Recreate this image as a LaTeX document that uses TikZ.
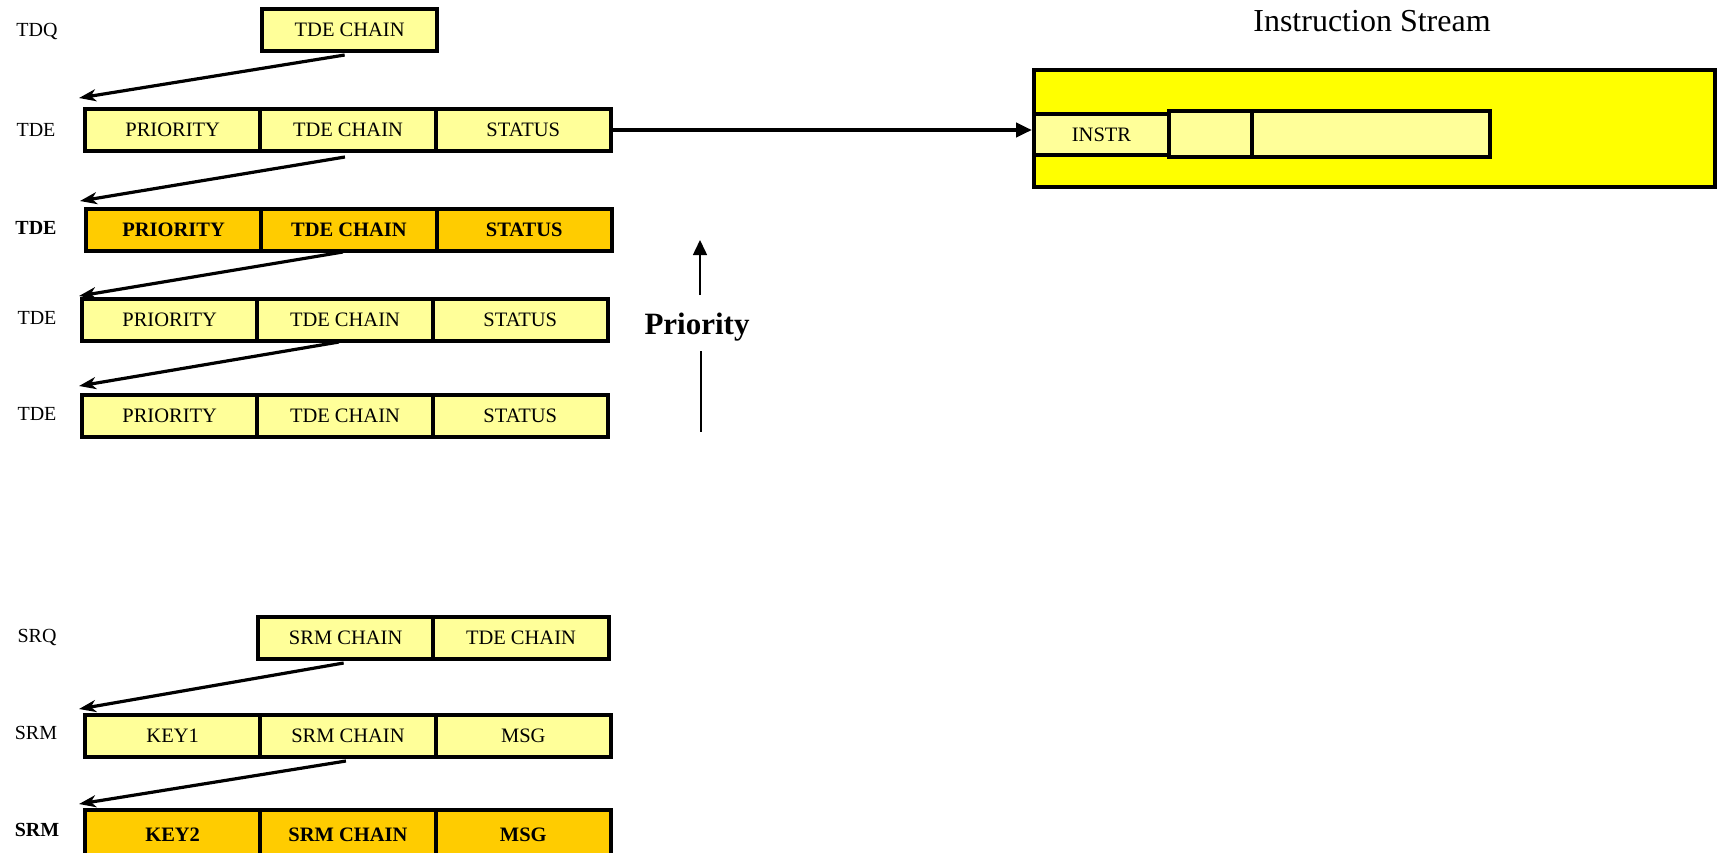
\documentclass[tikz,border=0pt]{standalone}
\usepackage{fontspec}
\setmainfont{Liberation Serif}
\usetikzlibrary{calc,arrows.meta}
\definecolor{cellyellow}{HTML}{FFFF99}
\definecolor{cellorange}{HTML}{FFCC00}
\definecolor{streamyellow}{HTML}{FFFF00}
\begin{document}
\begin{tikzpicture}[x=1pt,y=-1pt,
  cell/.style={draw=black, line width=4pt, fill=cellyellow,
    minimum width=175.3pt, minimum height=42pt, inner sep=0pt,
    anchor=north west, font=\fontsize{20.5}{24}\selectfont},
  hot/.style={cell, fill=cellorange, font=\fontsize{20.5}{24}\selectfont\bfseries},
  tag/.style={anchor=center, inner sep=0pt, font=\fontsize{20}{24}\selectfont},
  boldtag/.style={tag, font=\fontsize{20}{24}\selectfont\bfseries},
  chain/.style={line width=3.2pt, -{Stealth[length=17pt,width=12pt,inset=5pt]}},
  feed/.style={line width=4.5pt, -{Triangle[length=16pt,width=14pt]}},
  rise/.style={line width=1.5pt, -{Triangle[length=15pt,width=14pt]}}
]
\useasboundingbox (0,0) rectangle (1719,852);

\begin{scope}[shift={(-2,-2)}]
% --- task dispatch queue and its chain of task descriptors
\node[tag] (lq) at (39,33) {TDQ};
\node[cell] (q1) at (262,9) {TDE CHAIN};

\node[tag] (l1) at (38,132) {TDE};
\node[cell] (r1a) at (85,109) {PRIORITY};
\node[cell] (r1b) at (260.3,109) {TDE CHAIN};
\node[cell] (r1c) at (435.6,109) {STATUS};

\node[boldtag] (l2) at (38,230) {TDE};
\node[hot] (r2a) at (86,209) {PRIORITY};
\node[hot] (r2b) at (261.3,209) {TDE CHAIN};
\node[hot] (r2c) at (436.6,209) {STATUS};

\node[tag] (l3) at (39,320) {TDE};
\node[cell] (r3a) at (82,299) {PRIORITY};
\node[cell] (r3b) at (257.3,299) {TDE CHAIN};
\node[cell] (r3c) at (432.6,299) {STATUS};

\node[tag] (l4) at (39,416) {TDE};
\node[cell] (r4a) at (82,395) {PRIORITY};
\node[cell] (r4b) at (257.3,395) {TDE CHAIN};
\node[cell] (r4c) at (432.6,395) {STATUS};

\draw[chain] ($(q1.south)+(-5,2)$) -- ($(r1a.north west)+(-4,-9)$);
\draw[chain] ($(r1b.south)+(-3,4)$) -- ($(r2a.north west)+(-4,-6)$);
\draw[chain] ($(r2b.south)+(-6,-1)$) -- ($(r3a.north west)+(-1,-1)$);
\draw[chain] ($(r3b.south)+(-6,-1)$) -- ($(r4a.north west)+(-1,-7)$);

% --- priority direction
\node[anchor=center, inner sep=0pt, font=\fontsize{31}{36}\selectfont\bfseries] (prio) at (699,329) {Priority};
\coordinate (pup0) at (702,297);
\coordinate (pup1) at (702,242);
\coordinate (pdn0) at (703,353);
\coordinate (pdn1) at (703,434);
\draw[rise] (pup0) -- (pup1);
\draw[line width=1.5pt] (pdn0) -- (pdn1);

% --- instruction stream
\node[anchor=center, inner sep=0pt, font=\fontsize{32}{38}\selectfont] (title) at (1374,23) {Instruction Stream};
\node[draw=black, line width=4pt, fill=streamyellow, minimum width=681pt,
  minimum height=117pt, inner sep=0pt, anchor=north west] (stream) at (1034,70) {};
\node[cell, minimum width=135pt, minimum height=41pt] (instr) at (1034,114) {INSTR};
\node[cell, minimum width=83pt, minimum height=46pt] (op1) at (1169,111) {};
\node[cell, minimum width=238pt, minimum height=46pt] (op2) at (1252,111) {};
\draw[feed] (r1c.east) -- (r1c.east -| instr.west);

% --- send/receive queue and its message chain
\node[tag] (lsq) at (39,639) {SRQ};
\node[cell] (s0a) at (258,617) {SRM CHAIN};
\node[cell] (s0b) at (433.3,617) {TDE CHAIN};

\node[tag] (ls1) at (38,735) {SRM};
\node[cell] (s1a) at (85,715) {KEY1};
\node[cell] (s1b) at (260.3,715) {SRM CHAIN};
\node[cell] (s1c) at (435.6,715) {MSG};

\node[boldtag] (ls2) at (39,832) {SRM};
\node[hot, minimum height=49pt] (s2a) at (85,810) {KEY2};
\node[hot, minimum height=49pt] (s2b) at (260.3,810) {SRM CHAIN};
\node[hot, minimum height=49pt] (s2c) at (435.6,810) {MSG};

\draw[chain] ($(s0a.south)+(-2,2)$) -- ($(s1a.north west)+(-4,-4)$);
\draw[chain] ($(s1b.south)+(-2,2)$) -- ($(s2a.north west)+(-4,-4)$);
\end{scope}
\end{tikzpicture}
\end{document}
